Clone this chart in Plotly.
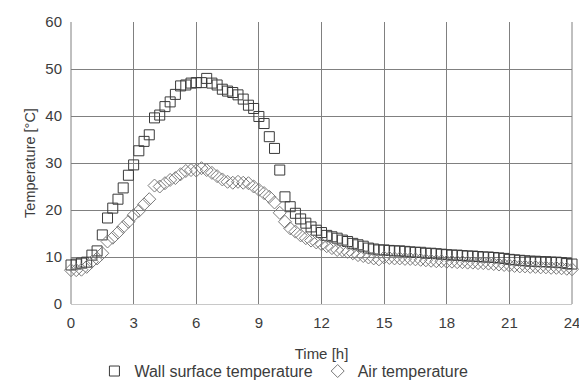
import plotly.graph_objects as go

time_h = [0.0, 0.25, 0.5, 0.75, 1.0, 1.25, 1.5, 1.75, 2.0, 2.25, 2.5, 2.75,
          3.0, 3.25, 3.5, 3.75, 4.0, 4.25, 4.5, 4.75, 5.0, 5.25, 5.5, 5.75,
          6.0, 6.25, 6.5, 6.75, 7.0, 7.25, 7.5, 7.75, 8.0, 8.25, 8.5, 8.75,
          9.0, 9.25, 9.5, 9.75, 10.0, 10.25, 10.5, 10.75, 11.0, 11.25, 11.5, 11.75,
          12.0, 12.25, 12.5, 12.75, 13.0, 13.25, 13.5, 13.75, 14.0, 14.25, 14.5, 14.75,
          15.0, 15.25, 15.5, 15.75, 16.0, 16.25, 16.5, 16.75, 17.0, 17.25, 17.5, 17.75,
          18.0, 18.25, 18.5, 18.75, 19.0, 19.25, 19.5, 19.75, 20.0, 20.25, 20.5, 20.75,
          21.0, 21.25, 21.5, 21.75, 22.0, 22.25, 22.5, 22.75, 23.0, 23.25, 23.5, 23.75, 24.0]

wall_temp = [8.3, 8.5, 8.7, 8.9, 10.4, 11.3, 14.7, 18.3, 20.4, 22.3, 24.7, 27.4,
             29.6, 32.6, 34.6, 36.0, 39.6, 40.2, 42.0, 43.0, 44.6, 46.4, 46.6, 47.0,
             47.1, 47.1, 48.0, 47.0, 46.6, 45.7, 45.3, 45.0, 44.5, 43.6, 42.3, 41.6,
             39.9, 38.4, 35.6, 33.1, 28.5, 22.8, 20.7, 19.3, 18.1, 17.2, 16.4, 15.7,
             15.2, 14.6, 14.3, 14.0, 13.6, 13.3, 12.9, 12.6, 12.3, 11.9, 11.7, 11.5,
             11.5, 11.4, 11.3, 11.3, 11.2, 11.1, 11.0, 11.0, 10.8, 10.8, 10.7, 10.6,
             10.5, 10.4, 10.4, 10.3, 10.2, 10.2, 10.1, 10.0, 10.0, 9.9, 9.8, 9.7,
             9.5, 9.4, 9.3, 9.2, 9.1, 9.1, 9.0, 9.0, 8.9, 8.9, 8.8, 8.6, 8.5]

air_temp = [7.2, 7.2, 7.3, 7.9, 9.0, 9.7, 10.8, 13.3, 14.1, 15.2, 16.4, 17.5,
            18.9, 19.8, 21.2, 22.3, 25.2, 25.0, 25.7, 26.4, 26.8, 27.6, 28.3, 28.5,
            28.4, 28.9, 28.5, 27.9, 27.2, 26.5, 26.0, 25.8, 26.0, 25.8, 25.7, 25.0,
            24.3, 23.6, 22.8, 21.6, 19.4, 17.5, 16.1, 15.4, 14.6, 14.0, 13.5, 13.1,
            12.7, 12.3, 11.9, 11.5, 11.4, 11.1, 10.8, 10.4, 10.2, 9.9, 9.7, 9.5,
            9.9, 9.8, 9.7, 9.7, 9.6, 9.6, 9.5, 9.4, 9.3, 9.2, 9.1, 9.1,
            9.0, 9.0, 8.9, 8.9, 8.8, 8.8, 8.7, 8.7, 8.6, 8.5, 8.4, 8.3,
            8.2, 8.1, 8.0, 8.0, 7.9, 7.9, 7.8, 7.8, 7.7, 7.7, 7.6, 7.5, 7.4]

x_ticks = [0, 3, 6, 9, 12, 15, 18, 21, 24]
y_ticks = [0, 10, 20, 30, 40, 50, 60]

font_family = "Liberation Sans, Arial, sans-serif"
grid_color = "#808080"
text_color = "#3c3c3c"

fig = go.Figure()
fig.add_trace(go.Scatter(
    x=time_h, y=wall_temp, mode="markers", name="Wall surface temperature",
    cliponaxis=False,
    marker=dict(symbol="square-open", size=10, color="#3a3a3a", line=dict(width=1)),
))
fig.add_trace(go.Scatter(
    x=time_h, y=air_temp, mode="markers", name="Air temperature",
    cliponaxis=False,
    marker=dict(symbol="diamond-open", size=10, color="#7a7a7a", line=dict(width=1)),
))

# plot-area border lines at the left and right edges (gridlines at the range ends)
for xd in (0, 1):
    fig.add_shape(type="line", xref="x domain", yref="y domain",
                  x0=xd, x1=xd, y0=0, y1=1, layer="below",
                  line=dict(color=grid_color, width=1))

fig.update_layout(
    width=579, height=382,
    margin=dict(l=71, r=7, t=22, b=78, autoexpand=False),
    paper_bgcolor="white", plot_bgcolor="white",
    font=dict(family=font_family, size=15, color=text_color),
    showlegend=True,
    legend=dict(orientation="h", x=0.425, xanchor="center", y=-0.238, yanchor="middle",
                font=dict(size=16, color=text_color), borderwidth=0,
                tracegroupgap=0, bgcolor="rgba(0,0,0,0)"),
)
fig.update_xaxes(
    range=[0, 24], tickvals=x_ticks, ticktext=[str(v) for v in x_ticks],
    showgrid=True, gridcolor=grid_color, gridwidth=1,
    showline=True, linecolor="#c8c8c8", linewidth=1, mirror=False,
    zeroline=False, ticks="", ticklabelstandoff=5, ticklabeloverflow="allow",
    tickfont=dict(size=15, color=text_color),
    title=dict(text="Time [h]", font=dict(size=15, color=text_color), standoff=18),
)
fig.update_yaxes(
    range=[0, 60], tickvals=y_ticks, ticktext=[str(v) for v in y_ticks],
    showgrid=True, gridcolor=grid_color, gridwidth=1,
    showline=False, zeroline=False, ticks="", ticklabelstandoff=8,
    tickfont=dict(size=15, color=text_color),
    title=dict(text="Temperature [°C]", font=dict(size=14.5, color=text_color), standoff=6),
)

fig.write_html("out.html")
